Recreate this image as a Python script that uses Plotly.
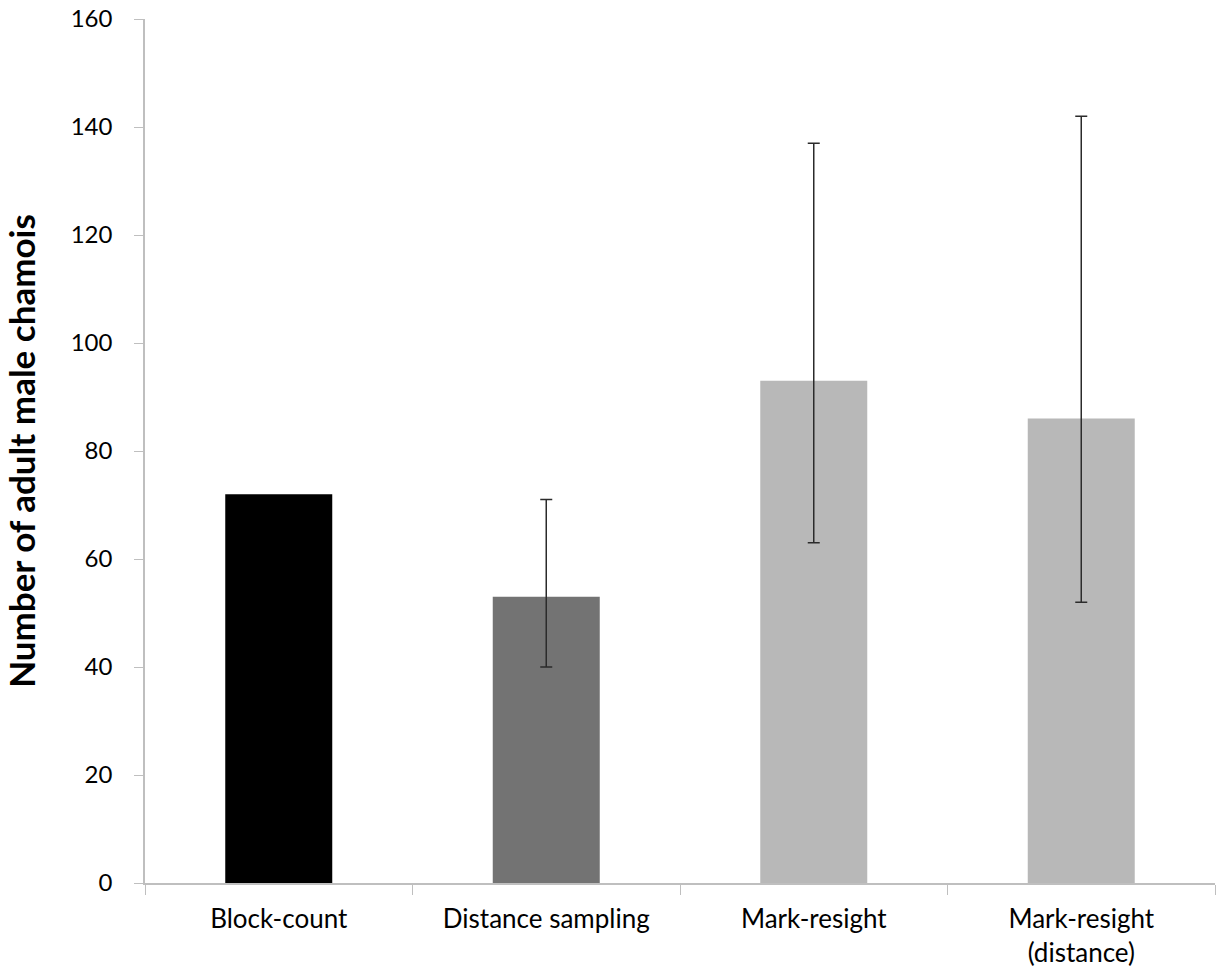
import plotly.graph_objects as go

categories = ["Block-count", "Distance sampling", "Mark-resight", "Mark-resight<br>(distance)"]
values = [72, 53, 93, 86]
err_cats = ["Distance sampling", "Mark-resight", "Mark-resight<br>(distance)"]
err_centers = [53, 93, 86]
err_plus = [18, 44, 56]
err_minus = [13, 30, 34]
colors = ["#000000", "#737373", "#b8b8b8", "#b8b8b8"]
y_ticks = [0, 20, 40, 60, 80, 100, 120, 140, 160]

fig = go.Figure()
fig.add_trace(go.Bar(
    x=categories, y=values,
    marker=dict(color=colors, line=dict(width=0)),
    width=0.4,
))
fig.add_trace(go.Scatter(
    x=err_cats, y=err_centers, mode="markers",
    marker=dict(size=1, opacity=0),
    error_y=dict(type="data", symmetric=False, array=err_plus, arrayminus=err_minus,
                 color="#2b2b2b", thickness=1.5, width=6),
    hoverinfo="skip",
))

font = "Lato"
fig.update_layout(
    width=1217, height=970,
    margin=dict(l=145, r=2, t=19, b=87, autoexpand=False),
    plot_bgcolor="white", paper_bgcolor="white",
    showlegend=False,
    font=dict(family=font, size=24, color="#000000"),
    xaxis=dict(
        type="category", tickson="boundaries", ticks="outside", ticklen=10,
        tickcolor="#bfbfbf", showline=True, linecolor="#bfbfbf", linewidth=1.5,
        showgrid=False, tickfont=dict(size=26), range=[-0.5, 3.5], automargin=False,
        ticklabelstandoff=12,
    ),
    yaxis=dict(
        range=[0, 160], tickvals=y_ticks, ticks="outside", ticklen=9,
        tickcolor="#bfbfbf", showline=True, linecolor="#bfbfbf", linewidth=1.5,
        showgrid=False, zeroline=False, tickfont=dict(size=24), automargin=False,
        ticklabelstandoff=17, ticklabeloverflow="allow",
        title=dict(text="<b>Number of adult male chamois</b>", font=dict(size=35), standoff=26),
    ),
)

fig.write_html("out.html", config={"displayModeBar": False},
               post_script="document.body.style.margin='0';")
